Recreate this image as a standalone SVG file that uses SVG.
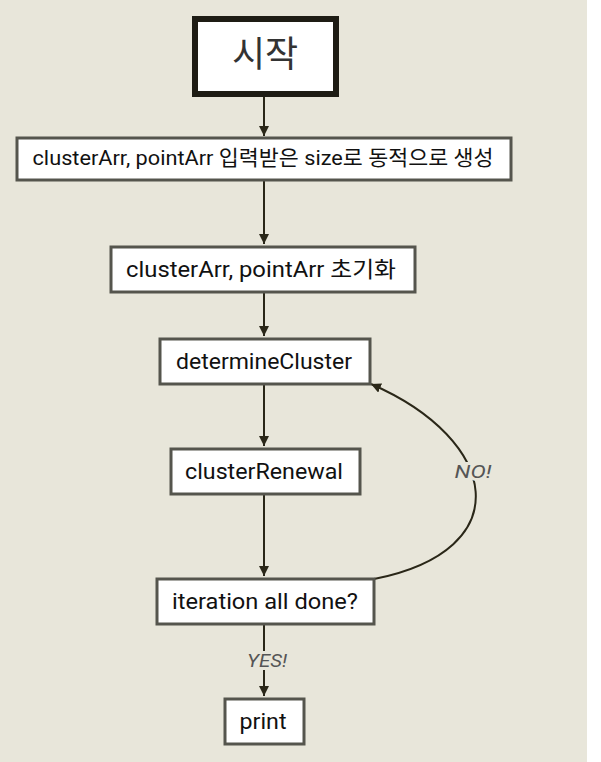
<svg xmlns="http://www.w3.org/2000/svg" width="601" height="762" viewBox="0 0 601 762">
<style>
.box{fill:#ffffff;stroke:#55554d;stroke-width:3}
.lbl{font-family:Roboto,"Noto Sans CJK KR",sans-serif;fill:#111;text-anchor:middle;dominant-baseline:central}
.edge{fill:none;stroke:#2a2718;stroke-width:2}
.el{font-family:Roboto,"Liberation Sans",sans-serif;font-style:italic;fill:#555;font-size:19px;text-anchor:middle;dominant-baseline:central;stroke:#e8e6da;stroke-width:6;paint-order:stroke}
</style>
<defs>
<marker id="ah" viewBox="0 0 10 10" refX="10" refY="5" markerWidth="10" markerHeight="10" markerUnits="userSpaceOnUse" orient="auto">
<path d="M0,0 L10,5 L0,10 z" fill="#2a2718"/>
</marker>
</defs>
<rect x="0" y="0" width="587" height="762" fill="#e8e6da"/>
<rect x="587" y="0" width="14" height="762" fill="#ffffff"/>
<g id="connectors">
<path class="edge" d="M264,97 L264,136" marker-end="url(#ah)"/>
<path class="edge" d="M264,181 L264,244" marker-end="url(#ah)"/>
<path class="edge" d="M264,293 L264,336" marker-end="url(#ah)"/>
<path class="edge" d="M264,385 L264,446" marker-end="url(#ah)"/>
<path class="edge" d="M264,495 L264,576" marker-end="url(#ah)"/>
<path class="edge" d="M264,625 L264,696" marker-end="url(#ah)"/>
<path class="edge" d="M374,579 C520,550 500,440 371,384" marker-end="url(#ah)"/>
<text class="el" x="267" y="660" textLength="40" lengthAdjust="spacingAndGlyphs">YES!</text>
<text class="el" x="473" y="471" textLength="37" lengthAdjust="spacingAndGlyphs">NO!</text>
</g>
<g id="start">
<rect x="195" y="19" width="141" height="75" fill="#fff" stroke="#1e1c14" stroke-width="6"/>
<text class="lbl" x="265" y="55" font-size="36" style="fill:#333">시작</text>
</g>
<g id="alloc">
<rect class="box" x="17" y="138" width="494" height="42"/>
<text class="lbl" x="263" y="158" font-size="21" textLength="461" lengthAdjust="spacingAndGlyphs">clusterArr, pointArr 입력받은 size로 동적으로 생성</text>
</g>
<g id="init">
<rect class="box" x="111" y="247" width="304" height="45"/>
<text class="lbl" x="261" y="269" font-size="22" textLength="270" lengthAdjust="spacingAndGlyphs">clusterArr, pointArr 초기화</text>
</g>
<g id="determine">
<rect class="box" x="160" y="339" width="210" height="45"/>
<text class="lbl" x="264" y="361" font-size="22" textLength="176" lengthAdjust="spacingAndGlyphs">determineCluster</text>
</g>
<g id="renewal">
<rect class="box" x="171" y="449" width="189" height="45"/>
<text class="lbl" x="264" y="471" font-size="22" textLength="158" lengthAdjust="spacingAndGlyphs">clusterRenewal</text>
</g>
<g id="iteration">
<rect class="box" x="157" y="579" width="217" height="45"/>
<text class="lbl" x="265" y="601" font-size="22" textLength="186" lengthAdjust="spacingAndGlyphs">iteration all done?</text>
</g>
<g id="print">
<rect class="box" x="225" y="699" width="79" height="45"/>
<text class="lbl" x="263" y="721" font-size="22" textLength="47" lengthAdjust="spacingAndGlyphs">print</text>
</g>
</svg>
